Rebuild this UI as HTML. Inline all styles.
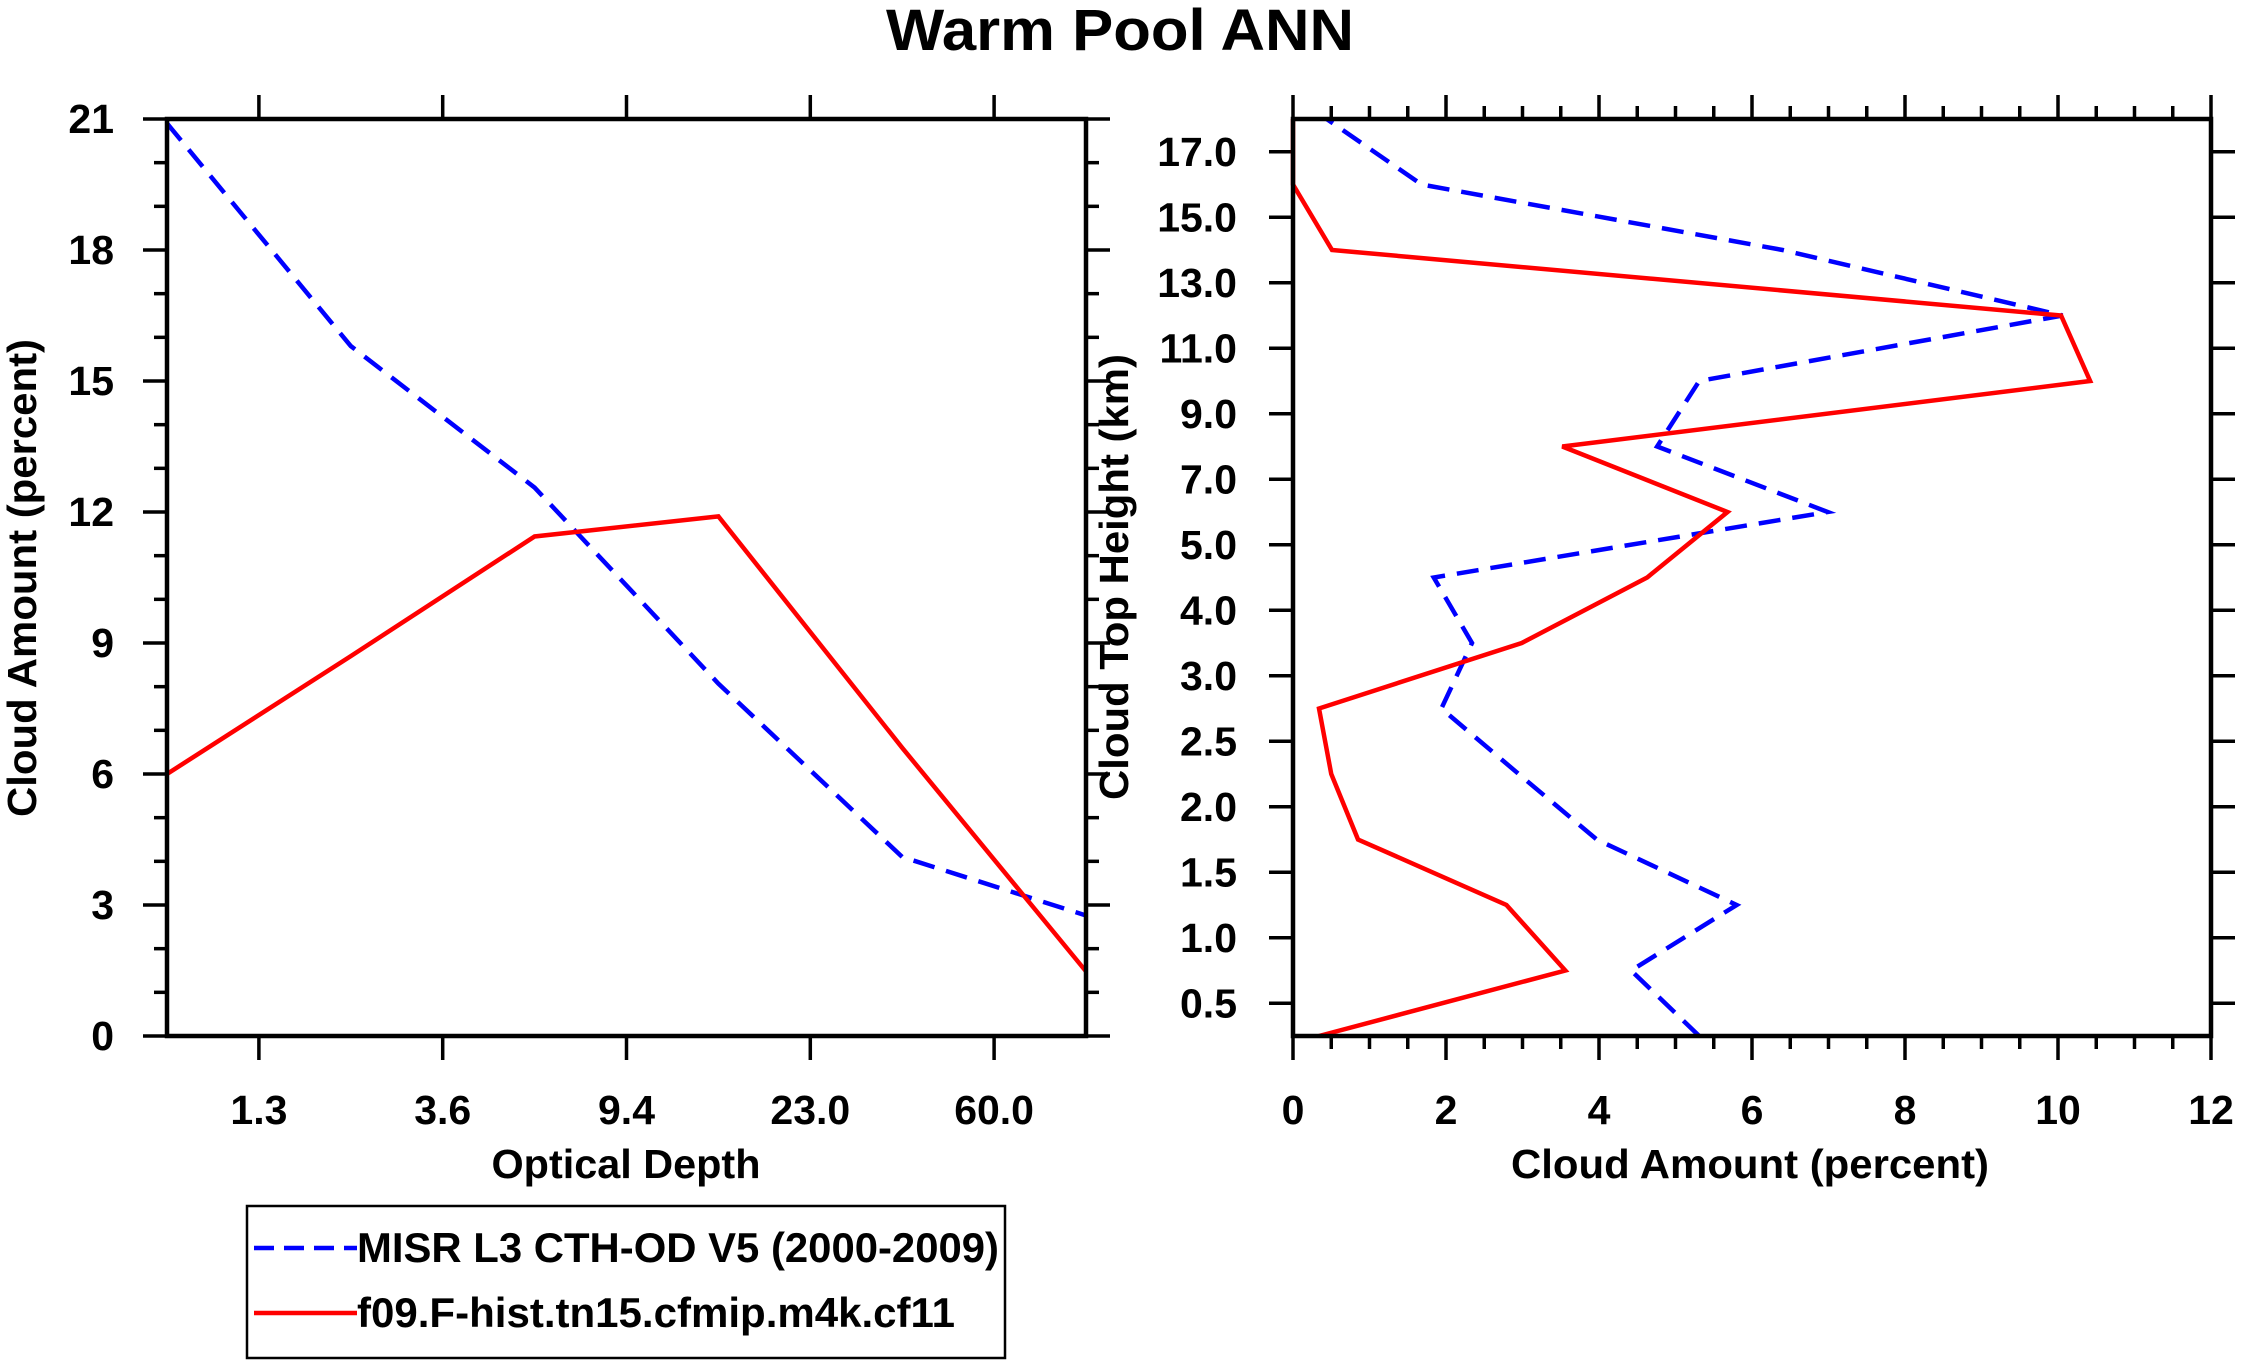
<!DOCTYPE html>
<html><head><meta charset="utf-8"><style>
html,body{margin:0;padding:0;background:#fff;}
svg{display:block;font-family:"Liberation Sans",Arial,sans-serif;font-weight:bold;}
</style></head><body>
<svg id="chart" width="2241" height="1366" viewBox="0 0 2241 1366" xmlns="http://www.w3.org/2000/svg">
<text x="1120" y="50" font-size="58" text-anchor="middle" textLength="468" lengthAdjust="spacingAndGlyphs">Warm Pool ANN</text>
<g id="left"></g>
<g id="right"></g>
<g>
<rect x="247" y="1206" width="758" height="152" fill="none" stroke="#000" stroke-width="2.5"/>
<line x1="254" y1="1248" x2="357" y2="1248" stroke="#0000ff" stroke-width="4.5" stroke-dasharray="20,10"/>
<text x="357" y="1262" font-size="42" textLength="642" lengthAdjust="spacingAndGlyphs">MISR L3 CTH-OD V5 (2000-2009)</text>
<line x1="254" y1="1313" x2="357" y2="1313" stroke="#ff0000" stroke-width="4.5"/>
<text x="357" y="1327" font-size="42" textLength="598" lengthAdjust="spacingAndGlyphs">f09.F-hist.tn15.cfmip.m4k.cf11</text>
</g>
</svg>
<script>
// Left panel data
const odTickLabels = ["1.3","3.6","9.4","23.0","60.0"];
const odMisr = [20.9, 15.8, 12.56, 8.07, 4.1, 2.76];
const odModel = [6.0, 8.7, 11.44, 11.9, 6.6, 1.48];
const leftYTicks = [0,3,6,9,12,15,18,21];
// Right panel data (bottom to top)
const cthTickLabels = ["0.5","1.0","1.5","2.0","2.5","3.0","4.0","5.0","7.0","9.0","11.0","13.0","15.0","17.0"];
const cthMisr = [5.31,4.42,5.8,3.97,2.95,1.94,2.34,1.84,6.99,4.76,5.31,10.06,6.4,1.68,0.44];
const cthModel = [0.34,3.56,2.79,0.85,0.5,0.34,2.99,4.63,5.68,3.52,10.42,10.04,0.51,0.0,0.0];
const rightXTicks = [0,2,4,6,8,10,12];

const NS="http://www.w3.org/2000/svg";
function mk(parent,tag,attrs){const e=document.createElementNS(NS,tag);for(const k in attrs)e.setAttribute(k,attrs[k]);parent.appendChild(e);return e;}
const L=document.getElementById('left'), R=document.getElementById('right');

// ---- Left panel
const lx0=167,lx1=1086,ly0=119,ly1=1036;
const lxs=i=>lx0+i*(lx1-lx0)/5;
const lys=v=>ly1-v*(ly1-ly0)/21;
let ticks=mk(L,'g',{});


for(let v=0;v<=21;v++){const len=v%3===0?24:13;
 mk(ticks,'line',{x1:lx0-len,y1:lys(v),x2:lx0,y2:lys(v),stroke:'#000','stroke-width':3.5});
 mk(ticks,'line',{x1:lx1,y1:lys(v),x2:lx1+len,y2:lys(v),stroke:'#000','stroke-width':3.5});}
odTickLabels.forEach((t,i)=>{const x=lxs(i+0.5);
 mk(ticks,'line',{x1:x,y1:ly0-24,x2:x,y2:ly0,stroke:'#000','stroke-width':3.5});
 mk(ticks,'line',{x1:x,y1:ly1,x2:x,y2:ly1+24,stroke:'#000','stroke-width':3.5});
 const tx=mk(L,'text',{x:x,y:1124,'font-size':41,'text-anchor':'middle'});tx.textContent=t;
 
 });
leftYTicks.forEach(v=>{const tx=mk(L,'text',{x:114,y:lys(v)+14,'font-size':41,'text-anchor':'end'});tx.textContent=v;
 
 });
function poly(parent,pts,color,dash,name){const p=mk(parent,'polyline',{points:pts.join(' '),fill:'none',stroke:color,'stroke-width':4.5,'stroke-linejoin':'miter'});if(dash)p.setAttribute('stroke-dasharray','22,12');
 
 }
poly(L,odMisr.map((v,i)=>lxs(i)+','+lys(v)),'#0000ff',true,'misr-optical-depth-line');
poly(L,odModel.map((v,i)=>lxs(i)+','+lys(v)),'#ff0000',false,'model-optical-depth-line');
let fr=mk(L,'rect',{x:lx0,y:ly0,width:lx1-lx0,height:ly1-ly0,fill:'none',stroke:'#000','stroke-width':4.5});


let t1=mk(L,'text',{x:626,y:1178,'font-size':41,'text-anchor':'middle',textLength:269,lengthAdjust:'spacingAndGlyphs'});t1.textContent='Optical Depth';


let t2=mk(L,'text',{x:0,y:0,'font-size':41,'text-anchor':'middle',textLength:478,lengthAdjust:'spacingAndGlyphs',transform:'translate(36,578) rotate(-90)'});t2.textContent='Cloud Amount (percent)';



// ---- Right panel
const rx0=1293,rx1=2211,ry0=119,ry1=1036;
const rxs=v=>rx0+v*(rx1-rx0)/12;
const rys=i=>ry1-i*(ry1-ry0)/14;
let rt=mk(R,'g',{});


for(let k=0;k<=24;k++){const v=k*0.5;const len=k%4===0?24:13;
 mk(rt,'line',{x1:rxs(v),y1:ry0-len,x2:rxs(v),y2:ry0,stroke:'#000','stroke-width':3.5});
 mk(rt,'line',{x1:rxs(v),y1:ry1,x2:rxs(v),y2:ry1+len,stroke:'#000','stroke-width':3.5});}
rightXTicks.forEach(v=>{const tx=mk(R,'text',{x:rxs(v),y:1124,'font-size':41,'text-anchor':'middle'});tx.textContent=v;
 
 });
cthTickLabels.forEach((t,i)=>{const y=rys(i+0.5);
 mk(rt,'line',{x1:rx0-24,y1:y,x2:rx0,y2:y,stroke:'#000','stroke-width':3.5});
 mk(rt,'line',{x1:rx1,y1:y,x2:rx1+24,y2:y,stroke:'#000','stroke-width':3.5});
 const tx=mk(R,'text',{x:1237,y:y+14,'font-size':41,'text-anchor':'end'});tx.textContent=t;
 
 });
poly(R,cthMisr.map((v,i)=>rxs(v)+','+rys(i)),'#0000ff',true,'misr-cloud-top-line');
poly(R,cthModel.map((v,i)=>rxs(v)+','+rys(i)),'#ff0000',false,'model-cloud-top-line');
let fr2=mk(R,'rect',{x:rx0,y:ry0,width:rx1-rx0,height:ry1-ry0,fill:'none',stroke:'#000','stroke-width':4.5});


let t3=mk(R,'text',{x:1750,y:1178,'font-size':41,'text-anchor':'middle',textLength:478,lengthAdjust:'spacingAndGlyphs'});t3.textContent='Cloud Amount (percent)';


let t4=mk(R,'text',{x:0,y:0,'font-size':41,'text-anchor':'middle',textLength:446,lengthAdjust:'spacingAndGlyphs',transform:'translate(1128,577) rotate(-90)'});t4.textContent='Cloud Top Height (km)';


</script>
</body></html>
